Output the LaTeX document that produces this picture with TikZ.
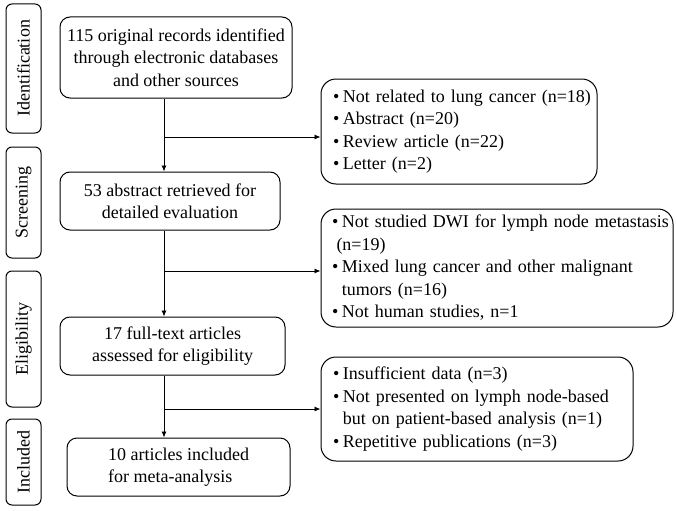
\documentclass[tikz,border=0pt]{standalone}
\usepackage{fontspec}
\setmainfont{Liberation Serif}
\usetikzlibrary{arrows.meta, positioning}

% bullet line and continuation line (no line breaking inside)
\newcommand{\itm}[1]{\mbox{\makebox[0.55em][l]{\textbullet}#1}}
\newcommand{\cont}[1]{\mbox{\hspace*{0.55em}#1}}

\begin{document}
\begin{tikzpicture}[x=1pt, y=-1pt, font=\fontsize{18}{22.5}\selectfont,
    stage/.style={draw, line width=1pt, rounded corners=10pt, align=center, inner sep=0pt},
    excl/.style={draw, line width=1pt, rounded corners=15pt, align=left, inner xsep=12pt, inner ysep=0pt},
    phase/.style={draw, line width=1pt, rounded corners=6pt, rotate=90, inner sep=0pt, minimum height=35pt},
    arr/.style={line width=0.9pt, -{Latex[length=6pt, width=5pt]}}]
    \useasboundingbox (0,0) rectangle (677,511);

    % Phase labels on the left
    \node[phase, minimum width=129pt] (pid) at (23.5,68.5) {Identification};
    \node[phase, minimum width=111pt] (psc) at (23.5,202.5) {Screening};
    \node[phase, minimum width=136pt] (pel) at (23.5,339) {Eligibility};
    \node[phase, minimum width=86pt] (pin) at (23.5,462) {Included};

    % Main flow
    \node[stage, minimum width=232pt, minimum height=81pt] (rec) at (176,57.5)
        {115 original records identified\\through electronic databases\\and other sources};
    \node[stage, minimum width=220pt, minimum height=58pt] (abs) at (170,201)
        {53 abstract retrieved for\\detailed evaluation};
    \node[stage, minimum width=225pt, minimum height=58pt] (full) at (172.5,346)
        {17 full-text articles\\assessed for eligibility};
    \node[stage, align=left, minimum width=223pt, minimum height=58pt] (incl) at (178.5,467)
        {10 articles included\\for meta-analysis};

    % Exclusion boxes
    \node[excl, text width=252pt, minimum height=105pt] (ex1) at (459,131.5)
        {\itm{Not related to lung cancer (n=18)}\\
         \itm{Abstract (n=20)}\\
         \itm{Review article (n=22)}\\
         \itm{Letter (n=2)}};
    \node[excl, inner xsep=11pt, text width=330pt, minimum height=118pt] (ex2) at (497,268)
        {\itm{Not studied DWI for lymph node metastasis}\\
         \mbox{\hspace*{0.25em}(n=19)}\\
         \itm{Mixed lung cancer and other malignant}\\
         \cont{tumors (n=16)}\\
         \itm{Not human studies, n=1}};
    \node[excl, text width=288pt, minimum height=104pt] (ex3) at (477,409)
        {\itm{Insufficient data (n=3)}\\
         \itm{Not presented on lymph node-based}\\
         \cont{but on patient-based analysis (n=1)}\\
         \itm{Repetitive publications (n=3)}};

    % Connectors
    \coordinate (spine) at (164,0);
    \coordinate (b1) at (164,137);
    \coordinate (b2) at (164,271);
    \coordinate (b3) at (164,409);
    \draw[arr] (rec.south -| spine) -- (abs.north -| spine);
    \draw[arr] (abs.south -| spine) -- (full.north -| spine);
    \draw[arr] (full.south -| spine) -- (incl.north -| spine);
    \draw[arr] (b1) -- (ex1.west |- b1);
    \draw[arr] (b2) -- (ex2.west |- b2);
    \draw[arr] (b3) -- (ex3.west |- b3);
\end{tikzpicture}
\end{document}
